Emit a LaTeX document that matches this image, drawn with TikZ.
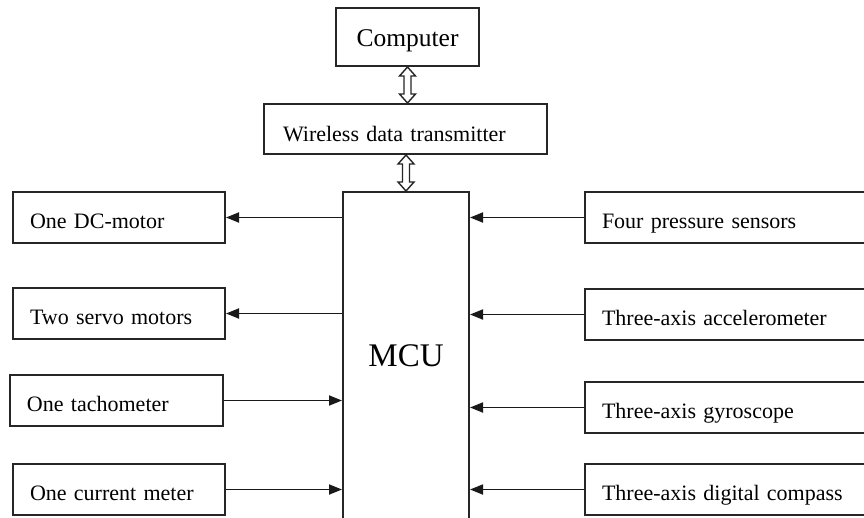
\documentclass[tikz,border=0pt]{standalone}
\usepackage{fontspec}
\setmainfont{Liberation Serif}
\usetikzlibrary{arrows.meta,calc}
\tikzset{
  box/.style={draw=black!85, line width=2pt, rectangle, anchor=north west,
    inner xsep=17pt, inner ysep=0pt, align=left, text height=21pt, text depth=0pt,
    font=\fontsize{22}{26}\selectfont},
  lbox/.style={box, minimum width=212pt, minimum height=51pt, text width=178pt},
  rbox/.style={box, minimum width=296pt, minimum height=51pt, text width=262pt},
  conn/.style={line width=1.8pt, black!90, -{Triangle[length=13pt,width=10pt]}},
  dbl/.style={draw=black!85, line width=1.4pt, fill=white, line join=miter},
}
\newcommand\dblarr[2]{\draw[dbl] let \p1=#1, \p2=#2 in
  (\x1,\y1) -- (\x1+8pt,\y1-9pt) -- (\x1+3.5pt,\y1-9pt) -- (\x1+3.5pt,\y2+9pt)
  -- (\x1+8pt,\y2+9pt) -- (\x1,\y2) -- (\x1-8pt,\y2+9pt) -- (\x1-3.5pt,\y2+9pt)
  -- (\x1-3.5pt,\y1-9pt) -- (\x1-8pt,\y1-9pt) -- cycle;}
\begin{document}
\begin{tikzpicture}[x=1pt,y=-1pt]
\useasboundingbox (0,0) rectangle (864,517);
\clip (0,0) rectangle (864,517);
\fill[white] (0,0) rectangle (864,517);
% top
\node[box, minimum width=143pt, minimum height=58pt, align=center, inner xsep=0pt,
  text width=143pt, text height=18pt, font=\fontsize{25.5}{30}\selectfont] (comp) at (335,7) {Computer};
\node[box, minimum width=283pt, minimum height=50pt, inner xsep=19pt, text width=245pt,
  text height=24pt] (wire) at (263,103) {Wireless data transmitter};
\node[box, minimum width=126pt, minimum height=360pt, inner xsep=0pt, align=center,
  text width=126pt, text height=0pt, text depth=12pt,
  font=\fontsize{33}{38}\selectfont] (mcu) at (342,191) {MCU};
% left
\node[lbox] (dc) at (12,191) {One DC-motor};
\node[lbox] (servo) at (12,287) {Two servo motors};
\node[lbox, minimum width=213pt, text width=179pt] (tach) at (9,374) {One tachometer};
\node[lbox] (curr) at (12,463) {One current meter};
% right
\node[rbox] (press) at (584,191) {Four pressure sensors};
\node[rbox] (acc) at (584,288) {Three-axis accelerometer};
\node[rbox] (gyro) at (584,381) {Three-axis gyroscope};
\node[rbox] (comps) at (584,463) {Three-axis digital compass};
% connectors
\draw[conn] (mcu.west |- dc.east) -- (dc.east);
\draw[conn] (mcu.west |- servo.east) -- (servo.east);
\draw[conn] (tach.east) -- (mcu.west |- tach.east);
\draw[conn] (curr.east) -- (mcu.west |- curr.east);
\draw[conn] (press.west) -- (mcu.east |- press.west);
\draw[conn] (acc.west) -- (mcu.east |- acc.west);
\draw[conn] (gyro.west) -- (mcu.east |- gyro.west);
\draw[conn] (comps.west) -- (mcu.east |- comps.west);
\dblarr{(comp.south)}{(comp.south |- wire.north)}
\dblarr{(mcu.north |- wire.south)}{(mcu.north)}
\end{tikzpicture}
\end{document}
